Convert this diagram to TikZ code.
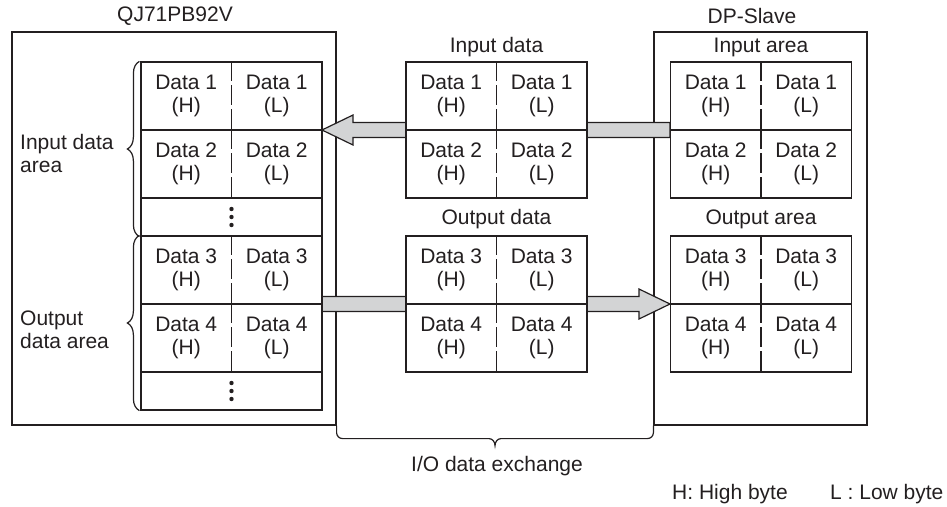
\documentclass[tikz,border=0pt]{standalone}
\usepackage{fontspec}
\setmainfont{Liberation Sans}
\usetikzlibrary{calc,decorations.pathreplacing}
\definecolor{ln}{RGB}{35,31,32}
\definecolor{arrowgray}{RGB}{211,212,213}
\newcommand\datarow[3]{%
  \node[rowbox] (#1) at (#2) {};
  \draw[divider] (#1.north) -- (#1.south);
  \node[cell] (#1h) at ($(#1.center)+(-45.25,0)$) {Data #3\\(H)};
  \node[cell] (#1l) at ($(#1.center)+(45.25,0)$) {Data #3\\(L)};
}
\newcommand\dotsrow[2]{%
  \node[dotbox] (#1) at (#2) {};
  \fill[ln] ($(#1.center)+(0,-8)$) circle (2.2);
  \fill[ln] (#1.center) circle (2.2);
  \fill[ln] ($(#1.center)+(0,8)$) circle (2.2);
}
\begin{document}
\begin{tikzpicture}[x=1pt,y=-1pt,
  every node/.style={font=\fontsize{21}{23}\selectfont, text=ln, inner sep=0pt},
  line/.style={draw=ln, line width=1.2pt},
  outerbox/.style={line, minimum height=393pt},
  rowbox/.style={line, fill=white, minimum width=181pt, minimum height=68pt},
  dotbox/.style={line, fill=white, minimum width=181pt, minimum height=38pt},
  cell/.style={align=center},
  divider/.style={line, dash pattern=on 20pt off 4pt},
  bigarrow/.style={line, fill=arrowgray, line join=miter},
  bracestyle/.style={line, decorate, decoration={brace, amplitude=12pt}},
]
\useasboundingbox (0,0) rectangle (947,506);

% outer boxes and titles
\node[outerbox, minimum width=324pt] (qjbox) at (174,228.5) {};
\node[outerbox, minimum width=213pt] (dpbox) at (760.5,228.5) {};
\node (qjtitle) at (175,16) {QJ71PB92V};
\node (dptitle) at (752,16) {DP-Slave};

% section labels
\node (indata) at (496.5,47) {Input data};
\node (outdata) at (496.5,219) {Output data};
\node (inarea) at (761,47) {Input area};
\node (outarea) at (761,219) {Output area};

% big arrows (drawn below the tables)
\coordinate (ta) at (322,130);
\coordinate (tb) at (670,130);
\coordinate (ba) at (322,304);
\coordinate (bb) at (670,304);
\draw[bigarrow] ($(tb)+(0,-7.5)$) -- ($(ta)+(31,-7.5)$) -- ($(ta)+(31,-15)$) -- (ta)
  -- ($(ta)+(31,15)$) -- ($(ta)+(31,7.5)$) -- ($(tb)+(0,7.5)$) -- cycle;
\draw[bigarrow] ($(ba)+(0,-7.5)$) -- ($(bb)+(-31,-7.5)$) -- ($(bb)+(-31,-15)$) -- (bb)
  -- ($(bb)+(-31,15)$) -- ($(bb)+(-31,7.5)$) -- ($(ba)+(0,7.5)$) -- cycle;

% left table
\datarow{LA}{231.5,96}{1}
\datarow{LB}{231.5,164}{2}
\dotsrow{LD}{231.5,217}
\datarow{LC}{231.5,270}{3}
\datarow{LE}{231.5,338}{4}
\dotsrow{LF}{231.5,391}

% middle tables
\datarow{MA}{496.5,96}{1}
\datarow{MB}{496.5,164}{2}
\datarow{MC}{496.5,270}{3}
\datarow{ME}{496.5,338}{4}

% right tables
\datarow{RA}{761,96}{1}
\datarow{RB}{761,164}{2}
\datarow{RC}{761,270}{3}
\datarow{RE}{761,338}{4}

% left braces and labels
\draw[bracestyle] ($(LD.south west)+(-1,0)$) -- ($(LA.north west)+(-1,0)$);
\draw[bracestyle] ($(LF.south west)+(-1,0)$) -- ($(LC.north west)+(-1,0)$);
\node[anchor=west, align=left] (inlbl) at (20,153) {Input data\\area};
\node[anchor=west, align=left] (outlbl) at (20,330) {Output\\data area};

% bottom brace
\coordinate (bl) at (qjbox.south east);
\coordinate (br) at (dpbox.south west);
\coordinate (bm) at ($(bl)!0.5!(br)$);
\draw[line] (bl) -- ($(bl)+(0,7)$) to[out=-90,in=180] ($(bl)+(6,13)$)
  -- ($(bm)+(-6,13)$) to[out=0,in=90] ($(bm)+(0,20)$) to[out=90,in=180] ($(bm)+(6,13)$)
  -- ($(br)+(-6,13)$) to[out=0,in=-90] ($(br)+(0,7)$) -- (br);
\node (iolbl) at (497,466) {I/O data exchange};

% legend
\node[anchor=west] (hb) at (672,494) {H: High byte};
\node[anchor=west] (lb) at (830,494) {L : Low byte};
\end{tikzpicture}
\end{document}
